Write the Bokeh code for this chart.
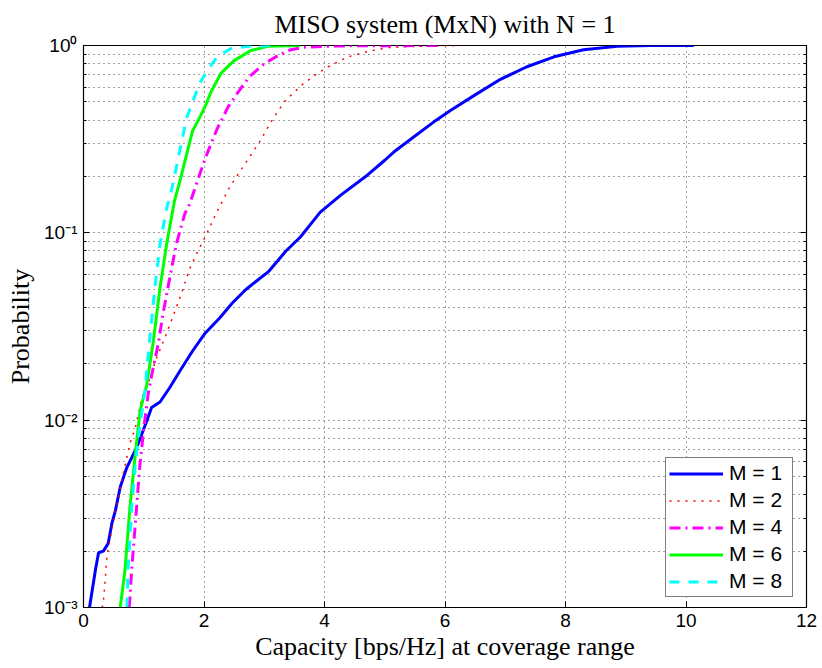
from bokeh.plotting import figure
from bokeh.models import (FixedTicker, LogAxis, Legend, LegendItem, Range1d)
from bokeh.embed import file_html
from bokeh.resources import INLINE

# ---- data ----
m1_x = [0.10, 0.12, 0.20, 0.25, 0.33, 0.41, 0.47, 0.53, 0.61, 0.72, 0.88, 0.99, 1.05, 1.13, 1.27,
        1.43, 1.60, 1.81, 2.01, 2.26, 2.47, 2.70, 3.08, 3.36, 3.60, 3.93, 4.27, 4.71, 5.00, 5.15,
        5.48, 5.81, 6.09, 6.48, 6.92, 7.36, 7.81, 8.30, 8.86, 9.41, 10.13]
m1_y = [0.001, 0.0011, 0.0016, 0.00196, 0.0020, 0.0022, 0.0028, 0.0033, 0.0044, 0.0056, 0.0071,
        0.0088, 0.0099, 0.0117, 0.0125, 0.0149, 0.0183, 0.0234, 0.0289, 0.0351, 0.0422, 0.050,
        0.0625, 0.080, 0.095, 0.129, 0.159, 0.203, 0.244, 0.27, 0.325, 0.39, 0.45, 0.54, 0.66,
        0.77, 0.87, 0.95, 0.99, 0.999, 1.0]

m2_x = [0.31, 0.33, 0.36, 0.39, 0.48, 0.56, 0.66, 0.77, 0.86, 0.97, 1.07, 1.20, 1.38, 1.54, 1.65,
        1.76, 1.90, 2.04, 2.20, 2.42, 2.72, 2.92, 3.11, 3.33, 3.61, 3.83, 4.06, 4.39, 4.72, 5.06,
        5.54, 6.26]
m2_y = [0.001, 0.00107, 0.0014, 0.0019, 0.0027, 0.0036, 0.0052, 0.0075, 0.0091, 0.0132, 0.0156,
        0.021, 0.029, 0.040, 0.050, 0.064, 0.080, 0.098, 0.127, 0.174, 0.244, 0.305, 0.39, 0.50,
        0.61, 0.69, 0.77, 0.87, 0.93, 0.975, 0.99, 1.0]

m4_x = [0.76, 0.80, 0.86, 0.93, 1.00, 1.08, 1.17, 1.24, 1.32, 1.43, 1.54, 1.68, 1.76, 2.02, 2.22,
        2.40, 2.56, 2.75, 3.00, 3.22, 3.44, 3.67, 4.20, 5.95]
m4_y = [0.001, 0.0016, 0.0028, 0.0055, 0.009, 0.0143, 0.020, 0.0255, 0.037, 0.057, 0.087, 0.126,
        0.142, 0.25, 0.36, 0.47, 0.56, 0.68, 0.80, 0.88, 0.95, 0.98, 0.995, 1.0]

m6_x = [0.61, 0.69, 0.77, 0.86, 0.94, 1.05, 1.16, 1.27, 1.38, 1.51, 1.60, 1.81, 1.94, 2.04, 2.11,
        2.28, 2.50, 2.78, 3.06, 3.60]
m6_y = [0.001, 0.0016, 0.0034, 0.0066, 0.0112, 0.0155, 0.0264, 0.051, 0.087, 0.148, 0.189, 0.35,
        0.42, 0.49, 0.56, 0.71, 0.83, 0.94, 0.99, 1.0]

m8_x = [0.72, 0.74, 0.80, 0.86, 0.94, 1.02, 1.10, 1.19, 1.27, 1.38, 1.48, 1.71, 1.93, 2.06, 2.22,
        2.44, 2.72, 3.20]
m8_y = [0.001, 0.0016, 0.0034, 0.0058, 0.0095, 0.0143, 0.0275, 0.053, 0.087, 0.135, 0.18, 0.41,
        0.63, 0.74, 0.87, 0.96, 0.99, 1.0]

labels = ["M = 1", "M = 2", "M = 4", "M = 6", "M = 8"]
x_ticks = [0, 2, 4, 6, 8, 10, 12]
y_ticks = [0.001, 0.01, 0.1, 1.0]
y_tick_labels = ["10\u207b\u00b3", "10\u207b\u00b2", "10\u207b\u00b9", "10\u2070"]

TITLE = "MISO system (MxN) with N = 1"
XLABEL = "Capacity [bps/Hz] at coverage range"
YLABEL = "Probability"

# ---- figure ----
p = figure(width=822, height=668, y_axis_type="log", output_backend="svg", toolbar_location=None,
           x_range=Range1d(0, 12), y_range=Range1d(0.001, 1.0),
           min_border_left=83, min_border_right=16, min_border_top=44, min_border_bottom=61)
p.background_fill_color = "white"
p.border_fill_color = "white"
p.outline_line_color = "black"
p.outline_line_width = 1.2

p.title.text = TITLE
p.title.align = "center"
p.title.text_font = "Liberation Serif"
p.title.text_font_style = "normal"
p.title.text_font_size = "26px"
p.title.text_color = "black"
p.title.standoff = 14

minor = [m * 10 ** e for e in (-3, -2, -1) for m in range(2, 10)]

xa = p.xaxis[0]
xa.ticker = FixedTicker(ticks=x_ticks)
ya = p.yaxis[0]
ya.ticker = FixedTicker(ticks=y_ticks, minor_ticks=minor)
ya.major_label_overrides = {t: l for t, l in zip(y_ticks, y_tick_labels)}

for ax in (xa, ya):
    ax.major_tick_in = 6
    ax.major_tick_out = 0
    ax.minor_tick_in = 3
    ax.minor_tick_out = 0
    ax.axis_line_color = "black"
    ax.major_tick_line_color = "black"
    ax.minor_tick_line_color = "black"
    ax.major_label_text_font = "Liberation Sans"
    ax.major_label_text_font_size = "19px"
    ax.major_label_text_color = "black"
    ax.axis_label_text_font = "Liberation Serif"
    ax.axis_label_text_font_style = "normal"
    ax.axis_label_text_font_size = "26px"
    ax.axis_label_text_color = "black"
xa.axis_label = XLABEL
ya.axis_label = YLABEL
xa.major_label_standoff = 6
ya.major_label_standoff = 6
xa.axis_label_standoff = 2
ya.axis_label_standoff = 6

# box ticks on the right (labels hidden)
right = LogAxis(ticker=FixedTicker(ticks=y_ticks, minor_ticks=minor), major_label_text_font_size="1px",
                major_label_text_alpha=0, major_tick_in=6, major_tick_out=0, minor_tick_in=3,
                minor_tick_out=0, major_label_standoff=0)
p.add_layout(right, "right")

# grid
p.xgrid.ticker = FixedTicker(ticks=x_ticks)
p.ygrid.ticker = FixedTicker(ticks=y_ticks, minor_ticks=minor)
for g in (p.xgrid[0], p.ygrid[0]):
    g.grid_line_color = "black"
    g.grid_line_alpha = 0.75
    g.grid_line_dash = "1 4"
    g.grid_line_width = 1
p.ygrid.minor_grid_line_color = "black"
p.ygrid.minor_grid_line_alpha = 0.75
p.ygrid.minor_grid_line_dash = "1 4"

# lines
r1 = p.line(m1_x, m1_y, line_color="#0000FF", line_width=3)
r2 = p.line(m2_x, m2_y, line_color="#FF0000", line_width=1.5, line_dash="2 6")
r4 = p.line(m4_x, m4_y, line_color="#FF00FF", line_width=3, line_dash="11 5 2 5")
r6 = p.line(m6_x, m6_y, line_color="#00FF00", line_width=3)
r8 = p.line(m8_x, m8_y, line_color="#00FFFF", line_width=3, line_dash="10 9")

legend = Legend(items=[LegendItem(label=l, renderers=[r]) for l, r in zip(labels, [r1, r2, r4, r6, r8])],
                location=(582, 10))
legend.label_text_font = "Liberation Sans"
legend.label_text_font_size = "21px"
legend.label_text_color = "black"
legend.border_line_color = "black"
legend.border_line_width = 1.2
legend.background_fill_alpha = 1.0
legend.glyph_width = 54
legend.glyph_height = 21
legend.label_height = 21
legend.label_width = 60
legend.label_standoff = 6
legend.spacing = 3
legend.padding = 3
legend.margin = 0
p.add_layout(legend)

open("out.html", "w").write(file_html(p, INLINE))
